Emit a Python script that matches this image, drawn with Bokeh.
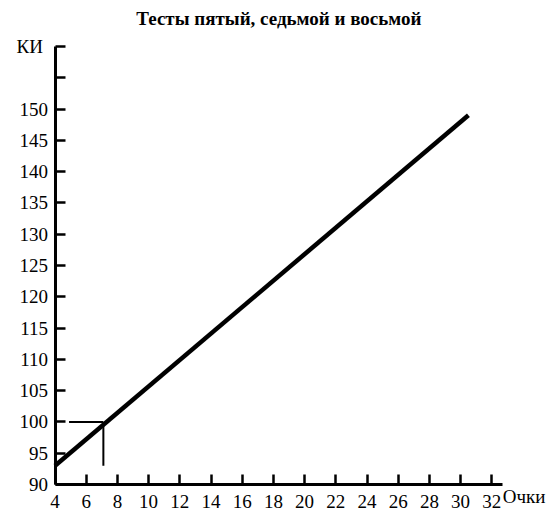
from bokeh.plotting import figure
from bokeh.models import FixedTicker, Label, Range1d
from bokeh.embed import file_html
from bokeh.resources import INLINE

title_text = "Тесты пятый, седьмой и восьмой"
x_label = "Очки"
y_label = "КИ"
x_ticks = list(range(4, 33, 2))
y_ticks = list(range(90, 161, 5))
y_unlabeled = [155, 160]
x_axis_end = 32.7

line_x = [4, 30.5]
line_y = [93, 149]

ref_x = 7.1
ref_y = 100
ref_h_start = 4.9
ref_v_end = 93

FONT = "Liberation Serif"
TICK_SIZE = "19px"

# frame fills the whole canvas; axes are drawn at fixed data locations
p = figure(width=557, height=514, output_backend="svg", toolbar_location=None,
           x_range=Range1d(0.506, 36.21), y_range=Range1d(85.21, 167.35),
           min_border=0, min_border_left=0, min_border_right=0,
           min_border_top=0, min_border_bottom=0,
           background_fill_color="white", border_fill_color="white")
p.outline_line_color = None
p.xgrid.visible = False
p.ygrid.visible = False

p.xaxis.ticker = FixedTicker(ticks=x_ticks, minor_ticks=[])
p.yaxis.ticker = FixedTicker(ticks=y_ticks, minor_ticks=[])
p.axis.major_tick_in = 10
p.axis.major_tick_out = 0
p.axis.minor_tick_line_color = None
p.axis.axis_line_width = 3
p.axis.axis_line_color = "black"
p.axis.major_tick_line_width = 2.5
p.axis.major_tick_line_color = "black"
p.axis.major_label_text_font = FONT
p.axis.major_label_text_font_size = TICK_SIZE
p.axis.major_label_text_color = "black"

p.xaxis.fixed_location = y_ticks[0]
p.yaxis.fixed_location = x_ticks[0]
p.xaxis.bounds = (x_ticks[0], x_axis_end)
p.yaxis.bounds = (y_ticks[0], y_ticks[-1])
p.xaxis.major_label_standoff = 10
p.yaxis.major_label_standoff = 7
p.yaxis.major_label_overrides = {v: "" for v in y_unlabeled}

p.line(line_x, line_y, line_width=4.5, color="black")
p.segment(x0=[ref_h_start, ref_x], y0=[ref_y, ref_y], x1=[ref_x, ref_x], y1=[ref_y, ref_v_end],
          line_width=2, color="black")

p.add_layout(Label(x=(x_ticks[0] + x_axis_end) / 2, y=y_ticks[-1], text=title_text,
                   y_offset=28, text_align="center", text_baseline="middle",
                   text_font=FONT, text_font_size="19px", text_font_style="bold",
                   text_color="black"))
p.add_layout(Label(x=x_axis_end, y=y_ticks[0], text=x_label, y_offset=-12, text_align="left",
                   text_baseline="middle", text_font=FONT, text_font_size=TICK_SIZE,
                   text_color="black"))
p.add_layout(Label(x=x_ticks[0], y=y_ticks[-1], text=y_label, x_offset=-12, y_offset=0,
                   text_align="right", text_baseline="middle", text_font=FONT,
                   text_font_size=TICK_SIZE, text_color="black"))

open("out.html", "w").write(file_html(p, INLINE))
